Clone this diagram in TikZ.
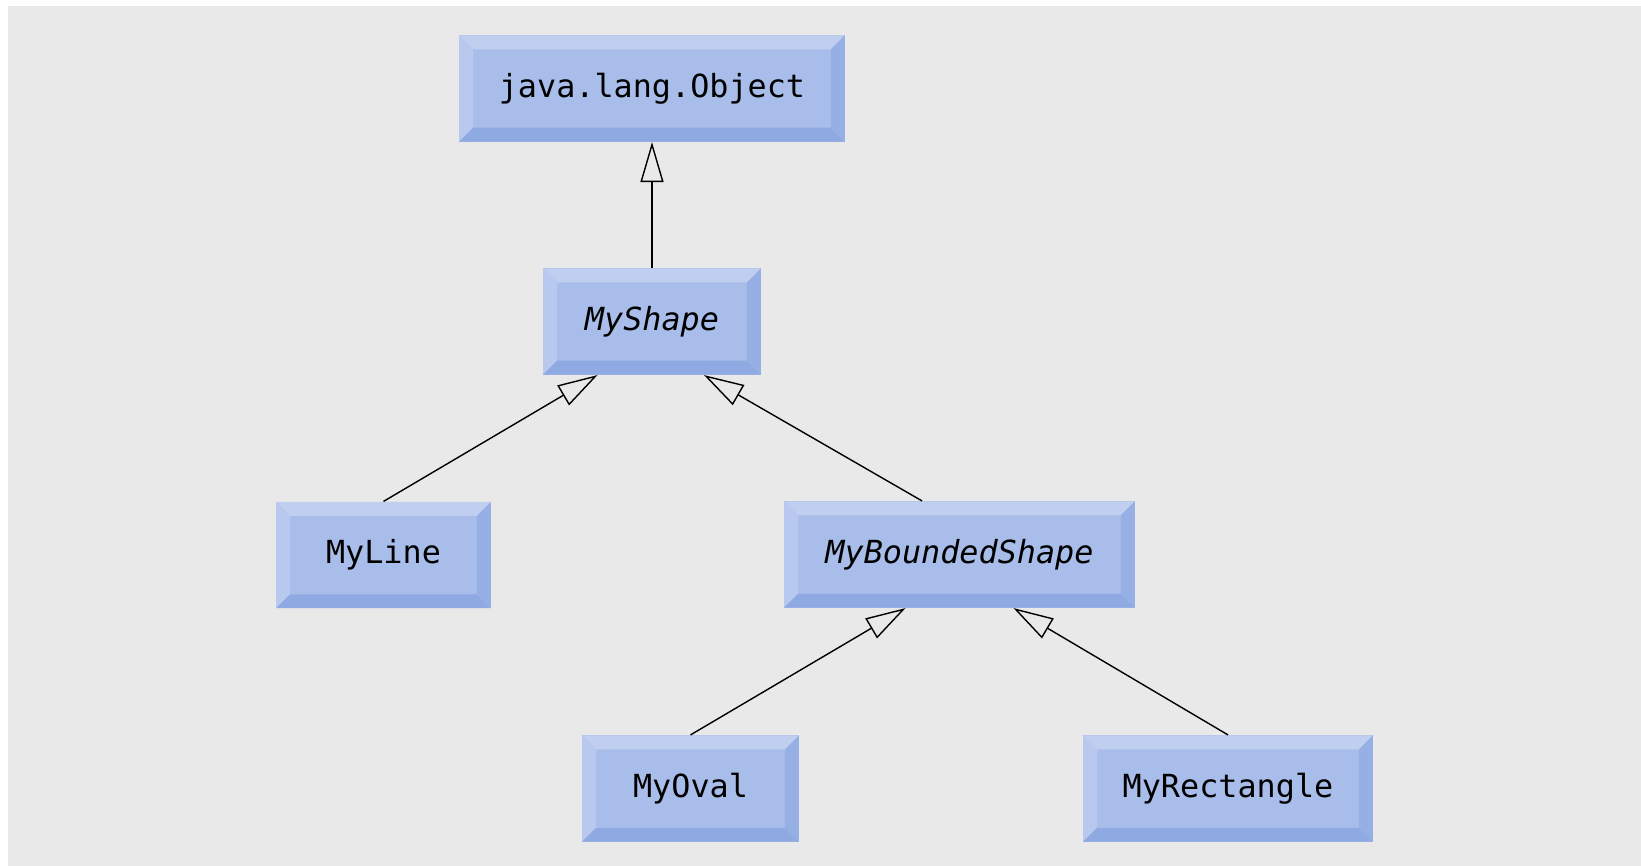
\documentclass[tikz,border=0pt]{standalone}
\usepackage{fontspec}
\setmonofont{DejaVu Sans Mono}
\usetikzlibrary{arrows.meta}

\definecolor{canvas}{RGB}{233,233,233}
\definecolor{boxface}{RGB}{168,189,233}
\definecolor{bevtop}{RGB}{192,207,240}
\definecolor{bevleft}{RGB}{184,200,238}
\definecolor{bevbottom}{RGB}{143,169,227}
\definecolor{bevright}{RGB}{150,175,228}

\tikzset{
  classbox/.style={
    fill=boxface, inner sep=0pt, minimum height=2.13cm,
    font=\ttfamily\fontsize{18.1}{22}\selectfont, text=black,
    path picture={
      \def\bw{0.28cm}
      \fill[bevtop] (path picture bounding box.north west) -- (path picture bounding box.north east)
        -- ([shift={(-\bw,-\bw)}]path picture bounding box.north east)
        -- ([shift={(\bw,-\bw)}]path picture bounding box.north west) -- cycle;
      \fill[bevleft] (path picture bounding box.north west)
        -- ([shift={(\bw,-\bw)}]path picture bounding box.north west)
        -- ([shift={(\bw,\bw)}]path picture bounding box.south west)
        -- (path picture bounding box.south west) -- cycle;
      \fill[bevbottom] (path picture bounding box.south west) -- (path picture bounding box.south east)
        -- ([shift={(-\bw,\bw)}]path picture bounding box.south east)
        -- ([shift={(\bw,\bw)}]path picture bounding box.south west) -- cycle;
      \fill[bevright] (path picture bounding box.north east)
        -- (path picture bounding box.south east)
        -- ([shift={(-\bw,\bw)}]path picture bounding box.south east)
        -- ([shift={(-\bw,-\bw)}]path picture bounding box.north east) -- cycle;
    }
  },
  abstractbox/.style={classbox, font=\ttfamily\itshape\fontsize{18.1}{22}\selectfont},
  inherits/.style={draw=black, line width=0.8pt,
    -{Triangle[open, length=0.8cm, width=0.46cm, fill=canvas]}}
}

\begin{document}
\begin{tikzpicture}[x=0.02cm, y=-0.02cm]
  % page and grey canvas
  \useasboundingbox (0,0) rectangle (1641,866);
  \fill[white] (0,0) rectangle (1641,866);
  \fill[canvas] (8,6) rectangle (1641,866);

  % class boxes
  \node[classbox, minimum width=7.72cm] (obj) at (652,88.5) {java.lang.Object};
  \node[abstractbox, minimum width=4.36cm] (shape) at (652,321.5) {MyShape};
  \node[classbox, minimum width=4.30cm] (line) at (383.5,555) {MyLine};
  \node[abstractbox, minimum width=7.02cm] (bounded) at (959.5,554.5) {MyBoundedShape};
  \node[classbox, minimum width=4.34cm] (oval) at (690.5,788.5) {MyOval};
  \node[classbox, minimum width=5.80cm] (rect) at (1228,788.5) {MyRectangle};

  % generalization arrows
  \draw[inherits] (shape.north) -- (obj.south);
  \draw[inherits] (line.north) -- ([xshift=-1.09cm]shape.south);
  \draw[inherits] ([xshift=-0.75cm]bounded.north) -- ([xshift=1.04cm]shape.south);
  \draw[inherits] (oval.north) -- ([xshift=-1.08cm]bounded.south);
  \draw[inherits] (rect.north) -- ([xshift=1.08cm]bounded.south);
\end{tikzpicture}
\end{document}
